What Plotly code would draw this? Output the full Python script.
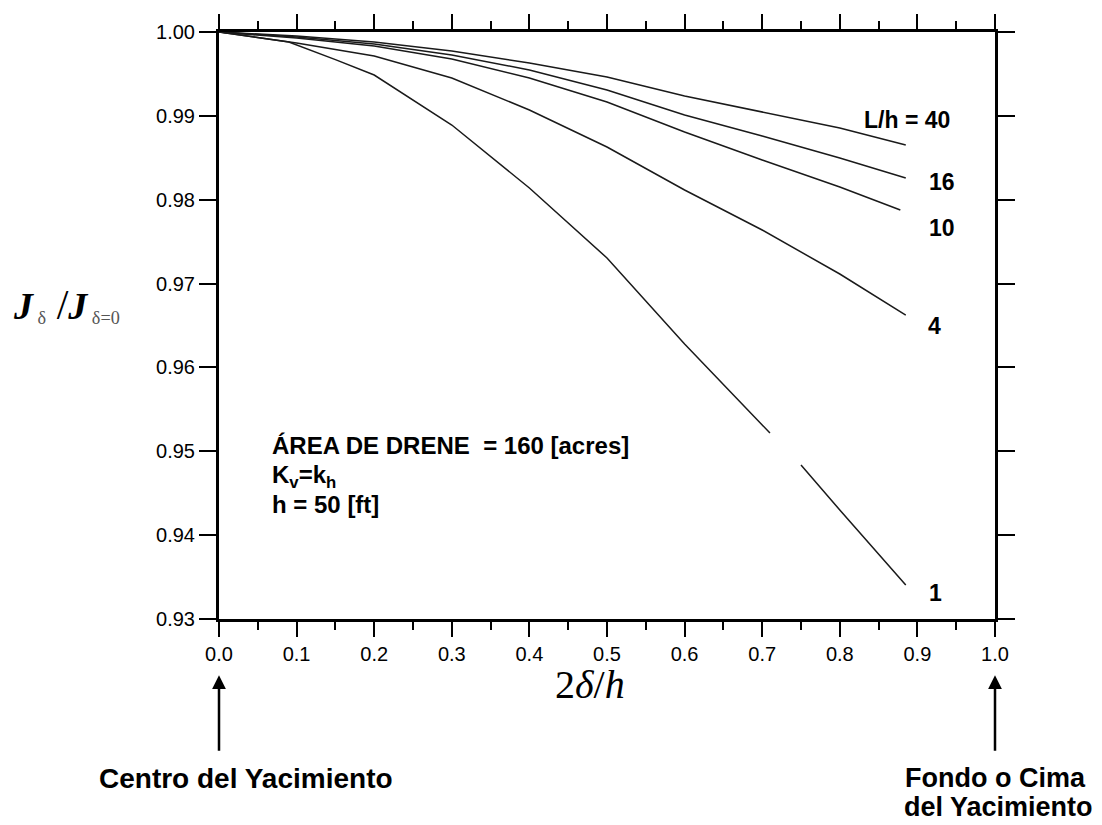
import plotly.graph_objects as go

# ---- data ----
x_main = [0.0, 0.1, 0.2, 0.3, 0.4, 0.5, 0.6, 0.7, 0.8, 0.885]
y_lh40 = [1.0, 0.99952, 0.99881, 0.99773, 0.99630, 0.99463, 0.99237, 0.99046, 0.98855, 0.98653]
y_lh16 = [1.0, 0.99940, 0.99857, 0.99726, 0.99547, 0.99308, 0.99010, 0.98760, 0.98497, 0.98259]
x_lh10 = [0.0, 0.1, 0.2, 0.3, 0.4, 0.5, 0.6, 0.7, 0.8, 0.878]
y_lh10 = [1.0, 0.99928, 0.99833, 0.99678, 0.99451, 0.99165, 0.98807, 0.98473, 0.98152, 0.97877]
y_lh4 = [1.0, 0.99869, 0.99714, 0.99451, 0.99070, 0.98629, 0.98116, 0.97639, 0.97114, 0.96625]
x_lh1 = [0.0, 0.09, 0.15, 0.2, 0.3, 0.4, 0.5, 0.6, 0.7, 0.71, 0.73, 0.75, 0.8, 0.885]
y_lh1 = [1.0, 0.9988, 0.9967, 0.99487, 0.98891, 0.98140, 0.97305, 0.96280, 0.95314, 0.95218, None, 0.94837, 0.94300, 0.93405]

curve_labels = ["L/h = 40", "16", "10", "4", "1"]
label_x = [0.828, 0.912, 0.912, 0.911, 0.912]
label_y = [0.98951, 0.98211, 0.97663, 0.96495, 0.93310]

x_ticks = [0.0, 0.1, 0.2, 0.3, 0.4, 0.5, 0.6, 0.7, 0.8, 0.9, 1.0]
y_ticks = [0.93, 0.94, 0.95, 0.96, 0.97, 0.98, 0.99, 1.00]

info_lines = ["ÁREA DE DRENE &nbsp;= 160 [acres]", "K<sub>v</sub>=k<sub>h</sub>", "h = 50 [ft]"]
info_y = [0.95070, 0.94700, 0.94360]

FONT = "Liberation Sans, Arial, sans-serif"
SERIF = "Liberation Serif, Times New Roman, serif"
LINE = "#1a1a1a"

fig = go.Figure()
for xs, ys in [(x_main, y_lh40), (x_main, y_lh16), (x_lh10, y_lh10), (x_main, y_lh4), (x_lh1, y_lh1)]:
    fig.add_trace(go.Scatter(x=xs, y=ys, mode="lines", line=dict(color=LINE, width=1.5),
                             connectgaps=False, showlegend=False, hoverinfo="skip"))

for t, lx, ly in zip(curve_labels, label_x, label_y):
    fig.add_annotation(x=lx, y=ly, text="<b>%s</b>" % t, showarrow=False, xanchor="left",
                       yanchor="middle", font=dict(family=FONT, size=23, color="black"))

for t, ly in zip(info_lines, info_y):
    fig.add_annotation(x=0.066, y=ly, text="<b>%s</b>" % t, showarrow=False,
                       xanchor="left", yanchor="middle",
                       font=dict(family=FONT, size=24, color="black"))

# axis titles
fig.add_annotation(xref="paper", yref="paper", x=-0.268, y=0.535, xanchor="left", yanchor="middle",
                   text="<b><i>J</i></b><span style='font-size:26px;color:#555'><sub> δ</sub></span>"
                        "<span style='font-size:42px'> /</span><b><i>J</i></b>"
                        "<span style='font-size:26px;color:#555'><sub> δ=0</sub></span>",
                   showarrow=False, font=dict(family=SERIF, size=38, color="black"))
fig.add_annotation(xref="paper", yref="paper", x=0.478, y=-0.112, xanchor="center", yanchor="middle",
                   text="2<i>δ</i>/<i>h</i>", showarrow=False,
                   font=dict(family=SERIF, size=40, color="black"))

# arrows and bottom notes
for ax_x in [0.0, 1.0]:
    fig.add_annotation(x=ax_x, xref="x", y=-0.096, yref="paper", ax=0, ay=77, text="",
                       showarrow=True, arrowhead=2, arrowsize=1.1, arrowwidth=2.5,
                       arrowcolor="black")
fig.add_annotation(x=0.035, xref="paper", y=-0.271, yref="paper", text="<b>Centro del Yacimiento</b>",
                   showarrow=False, xanchor="center", yanchor="middle",
                   font=dict(family=FONT, size=28, color="black"))
fig.add_annotation(x=1.0, xref="paper", y=-0.271, yref="paper", text="<b>Fondo o Cima</b>",
                   showarrow=False, xanchor="center", yanchor="middle",
                   font=dict(family=FONT, size=27, color="black"))
fig.add_annotation(x=1.005, xref="paper", y=-0.320, yref="paper", text="<b>del Yacimiento</b>",
                   showarrow=False, xanchor="center", yanchor="middle",
                   font=dict(family=FONT, size=27, color="black"))

fig.update_xaxes(range=[0, 1], tickvals=x_ticks, ticktext=["%.1f" % v for v in x_ticks],
                 ticks="outside", ticklen=15, tickwidth=2, tickcolor="black",
                 showline=True, linewidth=3, linecolor="black", mirror="ticks",
                 showgrid=False, zeroline=False,
                 minor=dict(dtick=0.1, tick0=0.05, ticks="outside", ticklen=8, tickwidth=2,
                            tickcolor="black", showgrid=False),
                 tickfont=dict(family=FONT, size=20, color="black"))
fig.update_yaxes(range=[0.93, 1.0], tickvals=y_ticks, ticktext=["%.2f" % v for v in y_ticks],
                 ticks="outside", ticklen=17, tickwidth=2, tickcolor="black",
                 showline=True, linewidth=3, linecolor="black", mirror="ticks",
                 showgrid=False, zeroline=False,
                 tickfont=dict(family=FONT, size=20, color="black"))

fig.update_layout(width=1102, height=825, margin=dict(l=219, r=107, t=32, b=206),
                  plot_bgcolor="white", paper_bgcolor="white")

fig.write_html("out.html", config={"displayModeBar": False},
               post_script="document.body.style.margin='0';")
